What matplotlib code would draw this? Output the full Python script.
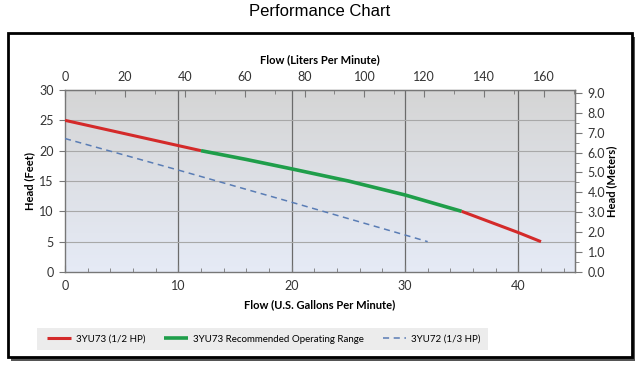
import matplotlib
matplotlib.use("Agg")
import matplotlib.pyplot as plt
import numpy as np
from matplotlib.patches import Rectangle
from matplotlib.ticker import MultipleLocator, FixedLocator, FormatStrFormatter

# Data (flow in US GPM, head in feet)
red1_x = [0, 12]
red1_y = [25, 20]
green_x = [12, 16, 20, 25, 30, 35]
green_y = [20, 18.55, 17.0, 15.0, 12.7, 10]
red2_x = [35, 40, 42]
red2_y = [10, 6.5, 5]
dash_x = [0, 10, 20, 30, 32]
dash_y = [22, 16.8, 11.5, 6.1, 5]

lpm_ticks = [0, 20, 40, 60, 80, 100, 120, 140, 160]
lpm_minor = [10, 30, 50, 70, 90, 110, 130, 150, 170]
meter_ticks = [0, 1, 2, 3, 4, 5, 6, 7, 8, 9]
meter_minor = [0.5, 1.5, 2.5, 3.5, 4.5, 5.5, 6.5, 7.5, 8.5]

labels = ["3YU73 (1/2 HP)", "3YU73 Recommended Operating Range", "3YU72 (1/3 HP)"]
title = "Performance Chart"

W, H = 640, 367
fig = plt.figure(figsize=(W/100, H/100), dpi=100)
font = ["Lato", "DejaVu Sans"]

# frame with shadow
fig.patches.append(Rectangle((11/W, 1 - 361/H), 624/W, 324/H, transform=fig.transFigure,
                             facecolor="#555555", edgecolor="none", zorder=0))
fig.patches.append(Rectangle((8/W, 1 - 357/H), 624/W, 324/H, transform=fig.transFigure,
                             facecolor="white", edgecolor="black", linewidth=2.0, zorder=1))

fig.text(0.5, 1 - 12/H, title, ha="center", va="center", fontsize=12,
         family=["Liberation Sans", "DejaVu Sans"])

ax = fig.add_axes([65/W, 1 - 272/H, 510/W, 182/H])
ax.set_zorder(3)
ax.set_xlim(0, 45)
ax.set_ylim(0, 30)

# gradient background
grad = np.linspace(0, 1, 256).reshape(-1, 1)
top = np.array([0.835, 0.835, 0.835])
bot = np.array([0.90, 0.92, 0.965])
img = top[None, None, :] * (1 - grad[:, :, None]) + bot[None, None, :] * grad[:, :, None]
ax.imshow(img, extent=[0, 1, 0, 1], transform=ax.transAxes, aspect="auto", zorder=0)

for x in [10, 20, 30, 40]:
    ax.axvline(x, color="#6b6b6b", lw=0.9, zorder=1)
for y in [5, 10, 15, 20, 25]:
    ax.axhline(y, color="#a8a8a8", lw=0.8, zorder=1)

red = "#d42a2a"
green = "#1f9e4a"
blue = "#5a7db5"
ax.plot(red1_x, red1_y, color=red, lw=2.2, zorder=3, solid_capstyle="butt", label=labels[0])
ax.plot(green_x, green_y, color=green, lw=2.6, zorder=3, solid_capstyle="butt",
        solid_joinstyle="round", label=labels[1])
ax.plot(red2_x, red2_y, color=red, lw=2.2, zorder=3, solid_capstyle="butt")
ax.plot(dash_x, dash_y, color=blue, lw=1.1, ls=(0, (4, 3)), zorder=3, label=labels[2])

for s in ax.spines.values():
    s.set_color("#777777")
    s.set_linewidth(1.0)

ax.xaxis.set_major_locator(MultipleLocator(10))
ax.xaxis.set_minor_locator(MultipleLocator(2))
ax.yaxis.set_major_locator(MultipleLocator(5))
ax.tick_params(axis="x", which="both", direction="in", colors="#777777", labelcolor="#333333",
               labelsize=9, pad=6)
ax.tick_params(axis="x", which="major", length=5)
ax.tick_params(axis="x", which="minor", length=3)
ax.tick_params(axis="y", which="major", direction="out", length=4, colors="#777777",
               labelcolor="#333333", labelsize=9, pad=4)
for t in ax.get_xticklabels() + ax.get_yticklabels():
    t.set_family(font)

ax.set_xlabel("Flow (U.S. Gallons Per Minute)", fontsize=8, fontweight="bold", family=font,
              labelpad=5)
ax.set_ylabel("Head (Feet)", fontsize=8, fontweight="bold", family=font, labelpad=3)

# top axis: liters per minute
sec = ax.secondary_xaxis("top", functions=(lambda g: g * 3.785, lambda l: l / 3.785))
sec.xaxis.set_major_locator(FixedLocator(lpm_ticks))
sec.xaxis.set_minor_locator(FixedLocator(lpm_minor))
sec.tick_params(axis="x", which="both", direction="in", colors="#777777", labelcolor="#333333",
                labelsize=9, pad=5)
sec.tick_params(axis="x", which="major", length=5)
sec.tick_params(axis="x", which="minor", length=3)
sec.spines["top"].set_color("#777777")
sec.set_xlabel("Flow (Liters Per Minute)", fontsize=8, fontweight="bold", family=font, labelpad=6)
for t in sec.get_xticklabels():
    t.set_family(font)

# right axis: meters
ry = ax.secondary_yaxis("right", functions=(lambda f: f * 0.3048, lambda m: m / 0.3048))
ry.yaxis.set_major_locator(FixedLocator(meter_ticks))
ry.yaxis.set_minor_locator(FixedLocator(meter_minor))
ry.yaxis.set_major_formatter(FormatStrFormatter("%.1f"))
ry.tick_params(axis="y", which="both", direction="out", colors="#777777", labelcolor="#333333",
               labelsize=9, pad=4)
ry.tick_params(axis="y", which="major", length=5)
ry.tick_params(axis="y", which="minor", length=3)
ry.spines["right"].set_color("#777777")
ry.set_ylabel("Head (Meters)", fontsize=8, fontweight="bold", family=font, labelpad=1)
for t in ry.get_yticklabels():
    t.set_family(font)

# legend
fig.patches.append(Rectangle((37/W, 1 - 350/H), 451/W, 22/H, transform=fig.transFigure,
                             facecolor="#ececec", edgecolor="none", zorder=2))
handles, labs = ax.get_legend_handles_labels()
leg = fig.legend(handles, labs, loc="center", bbox_to_anchor=(264/W, 1 - 339/H), ncol=3,
                 frameon=False, handlelength=2.4, columnspacing=2.0,
                 handletextpad=0.5, prop={"family": font, "size": 7})
leg.set_zorder(4)

fig.savefig("out.png", dpi=100)
